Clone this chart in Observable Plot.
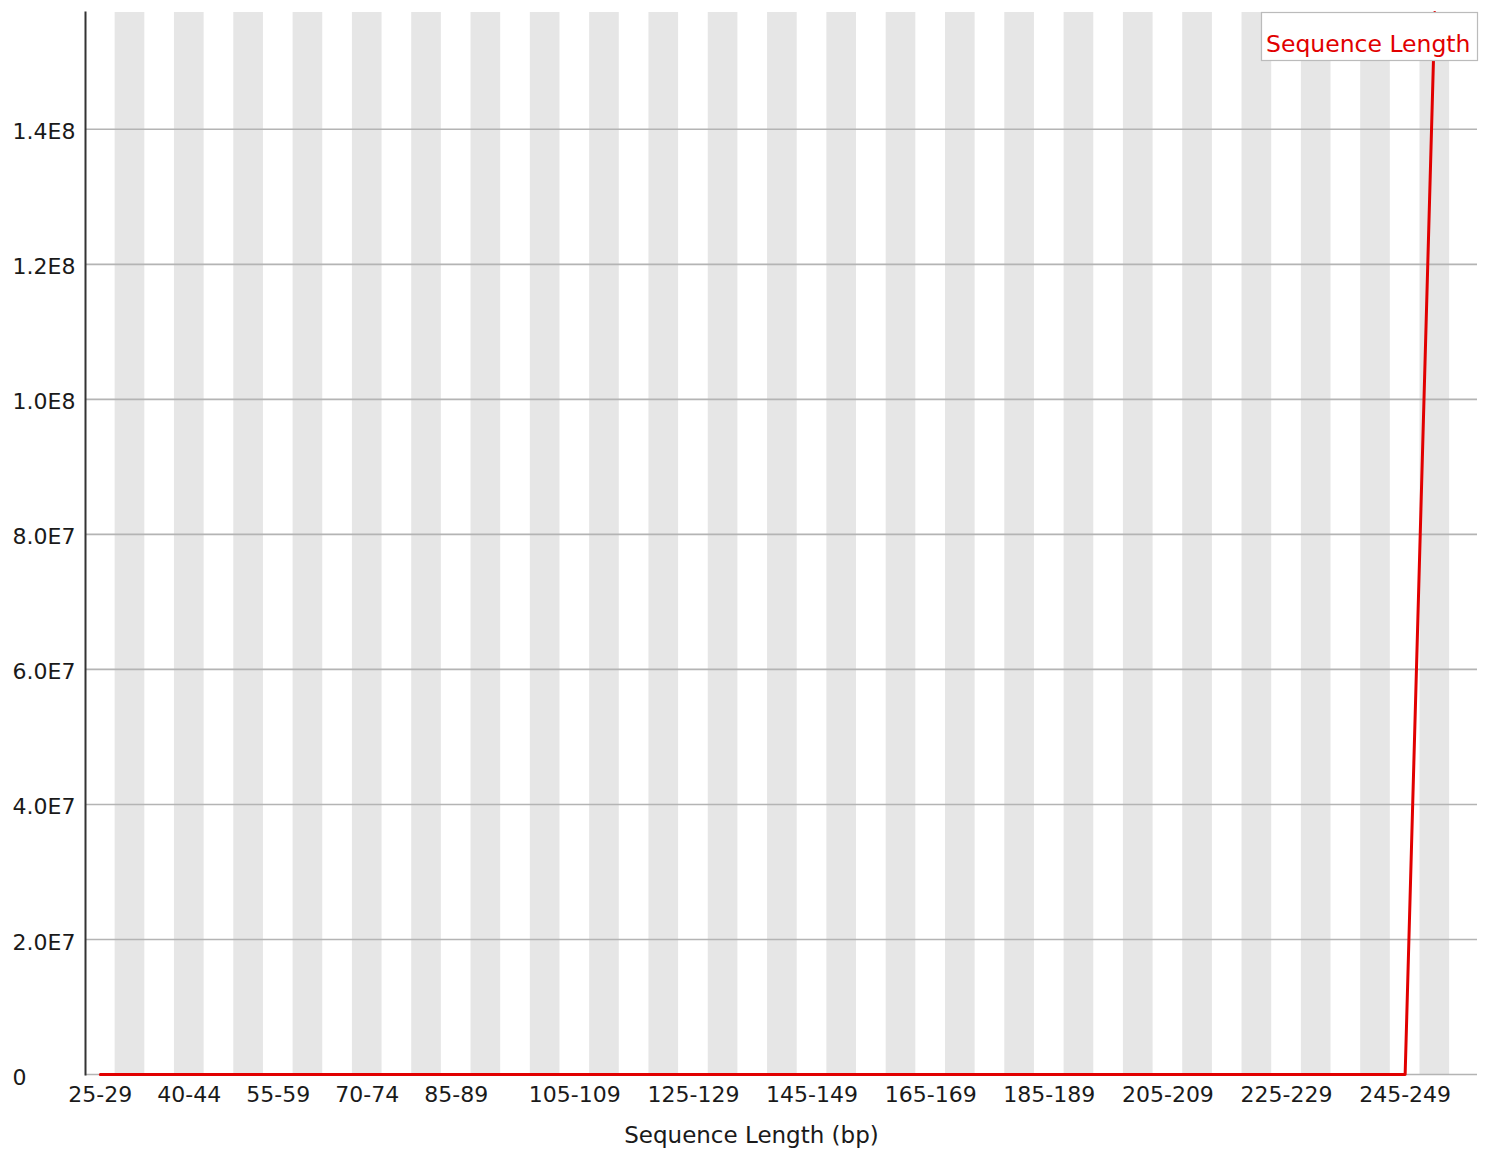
<!DOCTYPE html>
<html>
<head>
<meta charset="utf-8">
<script src="https://cdn.jsdelivr.net/npm/d3@7"></script>
<script src="https://cdn.jsdelivr.net/npm/@observablehq/plot@0.6"></script>
<style>
  html, body { margin: 0; padding: 0; background: #fff; }
  #chart svg { display: block; }
</style>
</head>
<body>
<div id="chart"></div>
<script>
// Read-length bins (bp)
const categories = [
  "25-29", "30-34", "35-39", "40-44", "45-49", "50-54", "55-59", "60-64",
  "65-69", "70-74", "75-79", "80-84", "85-89", "90-94", "95-99", "100-104",
  "105-109", "110-114", "115-119", "120-124", "125-129", "130-134", "135-139",
  "140-144", "145-149", "150-154", "155-159", "160-164", "165-169", "170-174",
  "175-179", "180-184", "185-189", "190-194", "195-199", "200-204", "205-209",
  "210-214", "215-219", "220-224", "225-229", "230-234", "235-239", "240-244",
  "245-249", "250"
];

// Number of reads in each bin
const counts = [
  0, 0, 0, 0, 0, 0, 0, 0, 0, 0, 0, 0, 0, 0, 0, 0,
  0, 0, 0, 0, 0, 0, 0, 0, 0, 0, 0, 0, 0, 0, 0, 0,
  0, 0, 0, 0, 0, 0, 0, 0, 0, 0, 0, 0, 0, 157300000
];

// Bins that carry an x-axis label
const labelledBins = ["25-29", "40-44", "55-59", "70-74", "85-89", "105-109",
  "125-129", "145-149", "165-169", "185-189", "205-209", "225-229", "245-249"];

const yTicks = [0, 2e7, 4e7, 6e7, 8e7, 1e8, 1.2e8, 1.4e8];

const seriesName = "Sequence Length";
const xTitle = "Sequence Length (bp)";

const data = categories.map((c, i) => ({index: i, bin: c, count: counts[i]}));
const shaded = data.filter(d => d.index % 2 === 1);
const yMax = d3.max(counts);

const W = 1488, H = 1155;
const margin = {top: 12, right: 11, bottom: 81, left: 85};
const font = "DejaVu Sans, Verdana, sans-serif";
const lineColor = "rgb(225,0,0)";

const fmt = v => v === 0 ? "0" : v.toExponential(1).toUpperCase().replace("+", "");

const plot = Plot.plot({
  width: W,
  height: H,
  marginTop: margin.top,
  marginRight: margin.right,
  marginBottom: margin.bottom,
  marginLeft: margin.left,
  style: {fontFamily: font, fontSize: "22px", color: "#1a1a1a", background: "#fff"},
  x: {type: "linear", domain: [-0.5, categories.length + 0.44]},
  y: {domain: [0, yMax]},
  marks: [
    // alternating column shading
    Plot.rect(shaded, {x1: d => d.index - 0.5, x2: d => d.index + 0.5, fill: "#e6e6e6"}),
    // horizontal grid
    Plot.ruleY(yTicks, {stroke: "#b4b4b4", strokeWidth: 1.6}),
    Plot.frame({anchor: "left", stroke: "#333", strokeWidth: 2}),
    Plot.axisY({
      ticks: yTicks, tickFormat: fmt, tickSize: 0, tickPadding: 73,
      textAnchor: "start", dy: 3, label: null, fill: "#1a1a1a"
    }),
    Plot.axisX({
      ticks: labelledBins.map(b => categories.indexOf(b)),
      tickFormat: i => categories[i], tickSize: 0, tickPadding: 12,
      label: null, fill: "#1a1a1a"
    }),
    Plot.text([xTitle], {frameAnchor: "bottom", dx: -30, dy: 68, fill: "#1a1a1a", fontSize: 23}),
    Plot.line(data, {x: "index", y: "count", stroke: lineColor, strokeWidth: 3})
  ]
});

document.getElementById("chart").appendChild(plot);

// Series key in the top-right corner of the frame
const svg = d3.select(plot);
const keyW = 216, keyH = 48;
const keyX = W - margin.right - keyW;
const key = svg.append("g").attr("transform", `translate(${keyX},${margin.top})`);
key.append("rect")
  .attr("x", 0.5).attr("y", 0.5)
  .attr("width", keyW).attr("height", keyH)
  .attr("fill", "#fff").attr("stroke", "#bbb").attr("stroke-width", 1.2);
key.append("text")
  .attr("x", 5).attr("y", 40)
  .attr("text-anchor", "start")
  .attr("fill", lineColor)
  .attr("font-family", font).attr("font-size", 23.5)
  .text(seriesName);
</script>
</body>
</html>
